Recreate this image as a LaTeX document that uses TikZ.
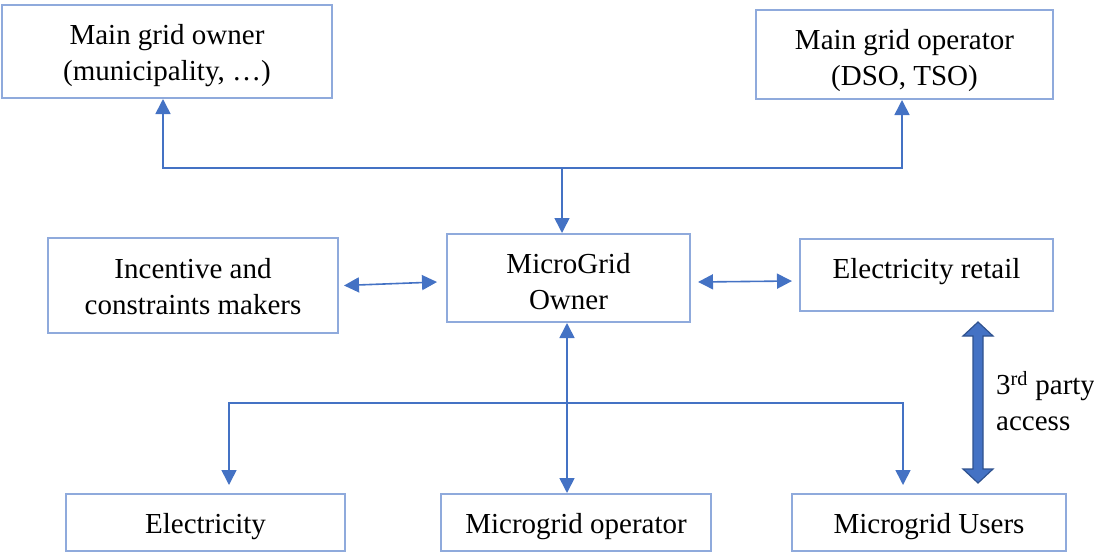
\documentclass[tikz,border=0pt]{standalone}
\usepackage{fontspec}
\setmainfont{Liberation Serif}
\usetikzlibrary{arrows.meta,calc}
\definecolor{boxline}{HTML}{8FAADC}
\definecolor{link}{HTML}{4472C4}
\definecolor{linkdark}{HTML}{2F528F}
\tikzset{
  box/.style={draw=boxline, line width=2pt, inner sep=0pt},
  boxtext/.style={inner sep=0pt, align=center,
    font=\fontsize{29}{36}\selectfont},
  conn/.style={draw=link, line width=1.6pt},
  >={Triangle[length=15pt,width=15pt]}
}
\begin{document}
\begin{tikzpicture}[x=1pt,y=-1pt]
\useasboundingbox (0,0) rectangle (1094,554);

% boxes
\node[box, minimum width=330pt, minimum height=93pt] (gowner) at (167,51.5) {};
\node[box, minimum width=297pt, minimum height=89pt] (gop) at (904.5,54.5) {};
\node[box, minimum width=290pt, minimum height=95pt] (inc) at (193,285.5) {};
\node[box, minimum width=243pt, minimum height=88pt] (mgo) at (568.5,278) {};
\node[box, minimum width=253pt, minimum height=72pt] (ret) at (926.5,275) {};
\node[box, minimum width=279pt, minimum height=57pt] (elec) at (205.5,522.5) {};
\node[box, minimum width=270pt, minimum height=57pt] (mgop) at (576,522.5) {};
\node[box, minimum width=274pt, minimum height=57pt] (users) at (929,522.5) {};

% box labels
\node[boxtext] (gowner-t) at ($(gowner.center)+(0,4)$)
  {Main grid owner\\(municipality, \dots)};
\node[boxtext] (gop-t) at ($(gop.center)+(0,6)$)
  {Main grid operator\\(DSO, TSO)};
\node[boxtext] (inc-t) at ($(inc.center)+(0,1.5)$)
  {Incentive and\\constraints makers};
\node[boxtext] (mgo-t) at ($(mgo.center)+(0,3.5)$) {MicroGrid\\Owner};
\node[boxtext] (ret-t) at ($(ret.center)+(0,-3)$) {Electricity retail};
\node[boxtext] (elec-t) at ($(elec.center)+(0,4)$) {Electricity};
\node[boxtext] (mgop-t) at ($(mgop.center)+(0,4)$) {Microgrid operator};
\node[boxtext] (users-t) at ($(users.center)+(0,4)$) {Microgrid Users};

% upper distribution line
\coordinate (jt) at (562,168);
\draw[conn,->] (jt) -| ([xshift=-4pt]gowner.south);
\draw[conn,->] (jt) -| ([xshift=-2.5pt]gop.south);
\draw[conn,->] (jt) -- (jt |- mgo.north);

% side links
\draw[conn,<->] ($(inc.east)+(5,0)$) -- ($(mgo.west)+(-9,4)$);
\draw[conn,<->] ($(mgo.east)+(7,4)$) -- ($(ret.west)+(-7,6)$);

% lower distribution line
\coordinate (jb) at (567,403);
\draw[conn,<->] (mgo.south -| jb) -- (mgop.north -| jb);
\coordinate (ea) at ($(elec.north)+(23.5,-8)$);
\coordinate (ua) at ($(users.north)+(-26,-8)$);
\draw[conn,->] (jb) -| (ea);
\draw[conn,->] (jb) -| (ua);

% third-party access arrow
\coordinate (pa) at ($(ret.south)+(51.5,10)$);
\coordinate (pb) at ($(users.north)+(49,-10)$);
\filldraw[fill=link, draw=linkdark, line width=1.2pt, line join=miter]
  (pa) -- ++(15,14) -- ++(-10,0) -- ($(pb)+(5,-14)$) -- ++(10,0) -- (pb)
  -- ++(-15,-14) -- ++(10,0) -- ($(pa)+(-5,14)$) -- ++(-10,0) -- cycle;
\node[anchor=west, align=left, inner sep=0pt,
  font=\fontsize{29}{36}\selectfont] (tp) at (996,401)
  {3\textsuperscript{rd} party\\access};
\end{tikzpicture}
\end{document}
